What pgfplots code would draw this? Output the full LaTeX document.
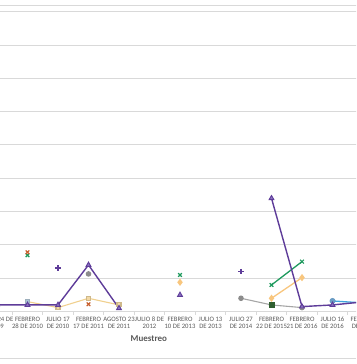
\documentclass[border=0pt]{standalone}
\usepackage{fontspec}
\setmainfont{Carlito}
\usepackage{pgfplots}
\pgfplotsset{compat=1.18}
\definecolor{purp}{HTML}{5E3C99}
\definecolor{purpfill}{HTML}{8A72C0}
\definecolor{grn}{HTML}{1F9A5E}
\definecolor{lorange}{HTML}{F8C67E}
\definecolor{peach}{HTML}{F0D08E}
\definecolor{redx}{HTML}{C8602E}
\definecolor{graypt}{HTML}{8C8C8C}
\definecolor{grayln}{HTML}{A6A6A6}
\definecolor{dgreen}{HTML}{2F5E2F}
\definecolor{blueln}{HTML}{3DA5DD}
\definecolor{bluept}{HTML}{6A9CC4}
\definecolor{paleblue}{HTML}{A9C4D6}
\definecolor{gridgray}{HTML}{D9D9D9}
\definecolor{labgray}{HTML}{595959}
\begin{document}
\begin{tikzpicture}
\useasboundingbox (0,0) rectangle (356pt,364pt);
\begin{scope}
\clip (0,0) rectangle (356pt,364pt);
\begin{axis}[
  at={(-33.5pt,52.4pt)}, anchor=south west,
  x=30.5pt, y=33.33pt,
  xmin=-1, xmax=13, ymin=0, ymax=9.2,
  axis x line*=bottom, axis y line*=left,
  x axis line style={draw=gridgray,-, line width=0.8pt},
  y axis line style={draw=none},
  xtick={0,...,12},
  xticklabels={JULIO 24 DE\\2009, FEBRERO\\28 DE 2010, JULIO 17\\DE 2010, FEBRERO\\17 DE 2011, AGOSTO 23\\DE 2011, JULIO 8 DE\\2012, FEBRERO\\10 DE 2013, JULIO 13\\DE 2013, JULIO 27\\DE 2014, FEBRERO\\22 DE 2015, FEBRERO\\21 DE 2016, JULIO 16\\DE 2016, FEBRERO\\DE 2017},
  minor xtick={-0.5,0.5,...,12.5},
  major tick length=0pt, minor tick length=3pt, tick align=outside,
  minor tick style={gridgray, line width=0.8pt},
  ytick={1,...,9}, yticklabels={},
  extra y ticks={9.2}, extra y tick labels={}, extra y tick style={grid=major},
  ymajorgrids, grid style={gridgray, line width=0.9pt},
  unbounded coords=jump, clip=false,
  xticklabel style={font=\fontsize{6.7}{7.4}\selectfont, align=center, text=labgray, inner sep=0pt, yshift=-5pt},
  xlabel={Muestreo},
  xlabel style={font=\fontsize{9}{10}\selectfont\bfseries, text=labgray, at={(axis description cs:0.427,-0.089)}, anchor=center},
]
\addplot[peach, line width=1.1pt, mark=square*, mark size=2pt, mark options={fill=peach!80!white, draw=peach!70!gray}]
  coordinates {(1,0.3) (2,0.12) (3,0.4) (4,0.2)};
\addplot[only marks, mark=square*, mark size=2pt, mark options={fill=paleblue, draw=paleblue!70!gray}]
  coordinates {(1,0.32)};
\addplot[grayln, line width=1.1pt, mark=*, mark size=2.2pt, mark options={fill=graypt, draw=graypt}]
  coordinates {(3,1.13) (4,nan) (8,0.4) (9,0.2) (10,0.12)};
\addplot[only marks, mark=square*, mark size=2.3pt, mark options={fill=dgreen, draw=dgreen}]
  coordinates {(9,0.2)};
\addplot[blueln, line width=1.3pt, mark=*, mark size=2.3pt, mark options={fill=bluept, draw=bluept}]
  coordinates {(11,0.32) (12,0.26)};
\addplot[lorange, line width=1.3pt, mark=diamond*, mark size=2.6pt, mark options={fill=lorange, draw=lorange}]
  coordinates {(6,0.88) (7,nan) (9,0.4) (10,1.02)};
\addplot[grn, line width=1.3pt, mark=x, mark size=2.6pt, mark options={line width=1.2pt}]
  coordinates {(1,1.69) (2,nan) (6,1.1) (7,nan) (9,0.8) (10,1.5)};
\addplot[only marks, redx, mark=x, mark size=2.5pt, mark options={line width=1.2pt}]
  coordinates {(1,1.78) (3,0.22)};
\addplot[only marks, purp, mark=+, mark size=2.8pt, mark options={line width=1.3pt}]
  coordinates {(2,1.31) (8,1.2)};
\addplot[purp, line width=1.4pt, mark=triangle*, mark size=2.8pt, mark options={fill=purpfill, draw=purp, line width=0.9pt}]
  coordinates {(-1,0.2) (0,0.2) (1,0.2) (2,0.2) (3,1.4) (4,0.1) (5,nan) (6,0.5) (7,nan) (9,3.4) (10,0.15) (11,0.2) (12,0.29)};
\end{axis}
\draw[gridgray, line width=1pt] (0,5pt) -- (356pt,5pt);
\end{scope}
\end{tikzpicture}
\end{document}
